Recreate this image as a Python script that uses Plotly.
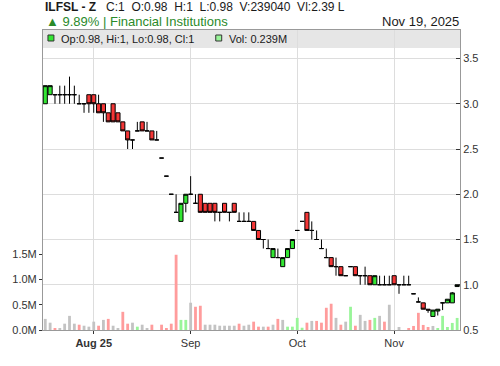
import plotly.graph_objects as go

# ---------------- data ----------------
day = list(range(86))  # trading-day slots, Jul 18 2025 ... Nov 19 2025

opens = [3.0, 3.1, 3.1, 3.1, 3.1, 3.1, 3.1, 3.0, 3.0, 3.1,
         3.1, 3.0, 3.0, 2.9, 3.0, 2.9, 2.8, 2.7, 2.6, 2.7,
         2.8, 2.7, 2.7, 2.6, 2.4, 2.2, 2.0, 1.8, 1.7, 1.9,
         2.0, 1.9, 2.0, 1.9, 1.9, 1.9, 1.8, 1.9, 1.8, 1.9,
         1.7, 1.7, 1.7, 1.7, 1.6, 1.5, 1.4, 1.3, 1.3, 1.2,
         1.3, 1.4, 1.6, 1.7, 1.8, 1.6, 1.5, 1.4, 1.3, 1.3,
         1.2, 1.2, 1.1, 1.2, 1.2, 1.1, 1.1, 1.1, 1.0, 1.0,
         1.0, 1.0, 1.1, 1.0, 1.0, 1.0, 0.9, 0.81, 0.80, 0.73,
         0.65, 0.71, 0.80, 0.80, 0.80, 0.98]
highs = [3.2, 3.2, 3.1, 3.2, 3.2, 3.3, 3.2, 3.1, 3.0, 3.1,
         3.1, 3.1, 3.0, 2.9, 3.0, 2.9, 2.8, 2.7, 2.6, 2.8,
         2.8, 2.8, 2.7, 2.7, 2.4, 2.2, 2.0, 2.0, 1.9, 2.0,
         2.2, 2.0, 2.0, 1.9, 1.9, 1.9, 1.8, 1.9, 1.8, 1.9,
         1.8, 1.8, 1.8, 1.7, 1.6, 1.5, 1.5, 1.4, 1.4, 1.3,
         1.4, 1.5, 1.6, 1.7, 1.8, 1.7, 1.6, 1.5, 1.4, 1.3,
         1.3, 1.2, 1.1, 1.2, 1.2, 1.1, 1.2, 1.1, 1.1, 1.1,
         1.1, 1.1, 1.1, 1.0, 1.1, 1.1, 0.9, 0.86, 0.80, 0.73,
         0.72, 0.73, 0.80, 0.84, 0.92, 1.0]
lows = [3.0, 3.1, 3.0, 3.0, 3.0, 3.0, 3.0, 3.0, 2.9, 2.9,
        2.9, 2.9, 2.8, 2.8, 2.8, 2.8, 2.7, 2.5, 2.5, 2.7,
        2.7, 2.7, 2.6, 2.6, 2.4, 2.2, 2.0, 1.8, 1.7, 1.8,
        2.0, 1.9, 1.8, 1.8, 1.8, 1.7, 1.7, 1.8, 1.7, 1.8,
        1.7, 1.7, 1.7, 1.6, 1.5, 1.4, 1.4, 1.3, 1.3, 1.2,
        1.3, 1.4, 1.6, 1.7, 1.6, 1.5, 1.5, 1.4, 1.3, 1.2,
        1.1, 1.1, 1.1, 1.2, 1.1, 1.0, 1.0, 1.0, 1.0, 1.0,
        1.0, 1.0, 1.0, 0.9, 1.0, 1.0, 0.9, 0.81, 0.73, 0.69,
        0.65, 0.66, 0.72, 0.80, 0.80, 0.98]
closes = [3.2, 3.2, 3.1, 3.1, 3.1, 3.1, 3.1, 3.0, 3.0, 3.0,
          3.0, 2.9, 2.9, 2.8, 2.8, 2.8, 2.7, 2.6, 2.6, 2.7,
          2.7, 2.7, 2.6, 2.6, 2.4, 2.2, 2.0, 1.8, 1.9, 2.0,
          2.0, 1.9, 1.8, 1.8, 1.8, 1.8, 1.8, 1.8, 1.8, 1.8,
          1.7, 1.7, 1.7, 1.6, 1.5, 1.5, 1.4, 1.4, 1.3, 1.3,
          1.4, 1.5, 1.6, 1.7, 1.6, 1.6, 1.5, 1.4, 1.3, 1.2,
          1.2, 1.1, 1.1, 1.2, 1.1, 1.1, 1.1, 1.0, 1.1, 1.0,
          1.0, 1.0, 1.0, 1.0, 1.0, 1.0, 0.9, 0.81, 0.73, 0.72,
          0.72, 0.73, 0.80, 0.84, 0.91, 1.0]
# volume in millions of shares
vol_m = [0.22, 0.145, 0.03, 0.03, 0.125, 0.28, 0.125, 0.105, 0.085, 0.066,
         0.165, 0.085, 0.20, 0.22, 0.085, 0.03, 0.36, 0.125, 0.145, 0.066,
         0.105, 0.03, 0.105, 0.0, 0.105, 0.03, 0.125, 1.49, 0.20, 0.20,
         0.54, 0.46, 0.48, 0.105, 0.105, 0.105, 0.085, 0.085, 0.085, 0.085,
         0.125, 0.085, 0.105, 0.165, 0.066, 0.066, 0.066, 0.105, 0.22, 0.20,
         0.066, 0.066, 0.24, 0.045, 0.145, 0.18, 0.18, 0.145, 0.44, 0.52,
         0.24, 0.105, 0.165, 0.46, 0.085, 0.30, 0.18, 0.20, 0.24, 0.28,
         0.165, 0.50, 0.0, 0.06, 0.0, 0.02, 0.08, 0.34, 0.10, 0.06,
         0.08, 0.02, 0.28, 0.06, 0.14, 0.23904]
# colour of each volume bar: +1 up, -1 down, 0 unchanged
vol_dir = [0, 0, -1, 0, 0, 0, 0, -1, 0, 0,
           0, -1, 0, -1, 0, 0, -1, -1, 0, 1,
           0, 0, -1, 0, -1, -1, -1, -1, 1, 1,
           0, -1, -1, 0, 0, 0, 0, 0, 0, 0,
           -1, 0, 0, -1, -1, 0, -1, 0, -1, 0,
           1, 1, 1, 1, -1, 0, -1, -1, -1, -1,
           0, -1, 0, 1, -1, 0, 0, -1, 1, 0,
           -1, 0, 0, 0, 0, -1, -1, -1, -1, -1,
           0, 1, 1, 1, 1, 1]

month_ticks = [10, 30, 52, 72]
month_labels = ["<b>Aug 25</b>", "Sep", "Oct", "Nov"]
price_ticks = [0.5, 1.0, 1.5, 2.0, 2.5, 3.0, 3.5]
vol_ticks = [0.0, 0.5, 1.0, 1.5]
vol_tick_labels = [f"{v:.1f}M" for v in vol_ticks]

symbol = "ILFSL - Z"
sector = "Financial Institutions"
last_date = "Nov 19, 2025"
pct_change = 9.89
vl_text = "Vl:2.39 L"

# ---------------- figure ----------------
FONT = "Liberation Sans, Arial, sans-serif"
NB = "\u00a0"
dir_colors = {1: "#99f599", -1: "#ff9c9c", 0: "#c3c3c3"}

W, H = 500, 366
ML, MR, MT, MB = 40, 40, 30, 36
PW, PH = W - ML - MR, H - MT - MB


def px_x(px):
    return (px - ML) / PW


def px_y(py):
    return 1 - (py - MT) / PH


fig = go.Figure()
fig.add_trace(go.Bar(
    x=day, y=vol_m, yaxis="y", width=0.58,
    marker=dict(color=[dir_colors[d] for d in vol_dir], line=dict(width=0)),
    hoverinfo="skip",
))
fig.add_trace(go.Candlestick(
    x=day, open=opens, high=highs, low=lows, close=closes, yaxis="y2",
    increasing=dict(fillcolor="#33e633", line=dict(color="#000000", width=1)),
    decreasing=dict(fillcolor="#f53636", line=dict(color="#000000", width=1)),
    whiskerwidth=0,
))

lo, hi, op, cl = lows[-1], highs[-1], opens[-1], closes[-1]
vol_last = int(round(vol_m[-1] * 1e6))
line1 = (f"<b>{symbol}</b>{NB*3}C:{cl:g}{NB*2}O:{op:g}{NB*2}H:{hi:g}{NB*2}"
         f"L:{lo:g}{NB*2}V:{vol_last}{NB*2}{vl_text}")
line2 = f"▲ {pct_change:.2f}% | {sector}"
leg1 = f"Op:{op:g}, Hi:{hi:g}, Lo:{lo:g}, Cl:{cl:g}"
leg2 = f"Vol: {vol_m[-1]:.3f}M"

annotations = [
    dict(text=line1, x=px_x(40), y=px_y(7), xanchor="left", yanchor="middle",
         font=dict(size=12, color="#1a1a1a", family=FONT)),
    dict(text=line2, x=px_x(41), y=px_y(21.5), xanchor="left", yanchor="middle",
         font=dict(size=13, color="#2a8a2a", family=FONT)),
    dict(text=last_date, x=px_x(461), y=px_y(21.5), xanchor="right", yanchor="middle",
         font=dict(size=13, color="#1a1a1a", family=FONT)),
    dict(text=leg1, x=px_x(56), y=px_y(38.5), xanchor="left", yanchor="middle",
         font=dict(size=11, color="#1a1a1a", family=FONT)),
    dict(text=leg2, x=px_x(225), y=px_y(38.5), xanchor="left", yanchor="middle",
         font=dict(size=11, color="#1a1a1a", family=FONT)),
]
for a in annotations:
    a.update(xref="paper", yref="paper", showarrow=False)

shapes = [
    dict(type="rect", xref="paper", yref="paper", x0=0, x1=1, y0=px_y(48), y1=1,
         fillcolor="#e6e6e6", line=dict(width=0), layer="below"),
    dict(type="rect", xref="paper", yref="paper", x0=px_x(45), x1=px_x(51),
         y0=px_y(41), y1=px_y(35), fillcolor="#33e633",
         line=dict(color="#333333", width=1), layer="above"),
    dict(type="rect", xref="paper", yref="paper", x0=px_x(214), x1=px_x(220),
         y0=px_y(41), y1=px_y(35), fillcolor="#99f599",
         line=dict(color="#333333", width=1), layer="above"),
]

tick_font = dict(size=11, color="#333333", family=FONT)
fig.update_layout(
    width=W, height=H, margin=dict(l=ML, r=MR, t=MT, b=MB, pad=0),
    paper_bgcolor="white", plot_bgcolor="white", showlegend=False,
    boxgap=0.15, boxgroupgap=0, bargap=0.4,
    font=dict(family=FONT),
    xaxis=dict(range=[-0.47, 85.59], tickmode="array", tickvals=month_ticks,
               ticktext=month_labels, showgrid=True, gridcolor="#dddddd",
               gridwidth=1, showline=True, linecolor="#999999", mirror=True,
               ticks="outside", ticklen=3, tickcolor="#333333",
               tickfont=tick_font, zeroline=False,
               rangeslider=dict(visible=False)),
    yaxis=dict(range=[0, 5.94], side="left", tickmode="array", tickvals=vol_ticks,
               ticktext=vol_tick_labels, showgrid=False, showline=True,
               linecolor="#999999", ticks="outside", ticklen=3,
               tickcolor="#333333", tickfont=tick_font, zeroline=False),
    yaxis2=dict(range=[0.5, 3.815], overlaying="y", side="right", tickmode="array",
                tickvals=price_ticks, tickformat=".1f", showgrid=True,
                gridcolor="#dddddd", showline=True, linecolor="#999999",
                ticks="inside", ticklen=4, tickcolor="#333333",
                tickfont=tick_font, zeroline=False),
    annotations=annotations,
    shapes=shapes,
)

fig.write_html("out.html")
